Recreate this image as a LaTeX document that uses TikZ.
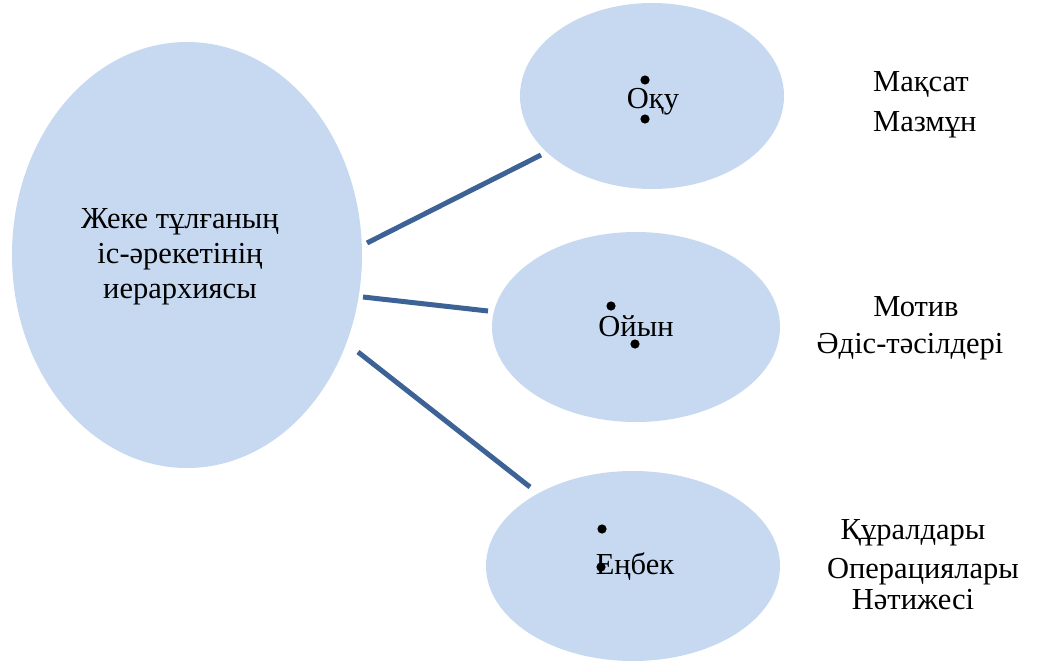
\documentclass[tikz,border=0pt]{standalone}
\usepackage{fontspec}
\setmainfont{Liberation Serif}
\usetikzlibrary{shapes.geometric}
\definecolor{ellfill}{RGB}{198,217,240}
\definecolor{linkcol}{RGB}{60,98,150}
\tikzset{
  bubble/.style={ellipse, fill=ellfill, draw=none, inner sep=0pt},
  txt/.style={font=\fontsize{30.5}{36}\selectfont, inner sep=0pt, anchor=base},
  link/.style={draw=linkcol, line width=5pt},
  dot/.style={fill=black}
}
\begin{document}
\begin{tikzpicture}[x=1pt,y=-1pt]
\useasboundingbox (0,0) rectangle (1039,661);
% ellipses
\node[bubble, minimum width=350pt, minimum height=426pt] (main) at (187,255) {};
\node[bubble, minimum width=264pt, minimum height=186pt] (oku) at (652,96) {};
\node[bubble, minimum width=288pt, minimum height=190pt] (oyin) at (636,327) {};
\node[bubble, minimum width=294pt, minimum height=190pt] (enbek) at (633,566) {};
% main text
\node[txt] (mt1) at (180,228) {Жеке тұлғаның};
\node[txt] (mt2) at (180,263) {іс-әрекетінің};
\node[txt] (mt3) at (180,298) {иерархиясы};
% ellipse labels
\node[txt] (okut) at (653,108) {Оқу};
\node[txt] (oyint) at (636,336) {Ойын};
\node[txt] (enbekt) at (635,574) {Еңбек};
% dots
\fill[dot] (645,80) circle (4.6pt);
\fill[dot] (645,119) circle (4.6pt);
\fill[dot] (611,306) circle (4.6pt);
\fill[dot] (635,344) circle (4.6pt);
\fill[dot] (602,529) circle (4.6pt);
\fill[dot] (601,567) circle (4.6pt);
% connectors
\coordinate (a1) at (367,243); \coordinate (b1) at (541,155);
\coordinate (a2) at (363,297); \coordinate (b2) at (488,311);
\coordinate (a3) at (358,352); \coordinate (b3) at (530,487);
\draw[link] (a1) -- (b1);
\draw[link] (a2) -- (b2);
\draw[link] (a3) -- (b3);
% right texts
\node[txt, anchor=base west] (r1) at (873,92) {Мақсат};
\node[txt, anchor=base west] (r2) at (873,131) {Мазмұн};
\node[txt] (r3) at (916,316) {Мотив};
\node[txt] (r4) at (910,353) {Әдіс-тәсілдері};
\node[txt] (r5) at (913,539) {Құралдары};
\node[txt] (r6) at (923,578) {Операциялары};
\node[txt] (r7) at (913,609) {Нәтижесі};
\end{tikzpicture}
\end{document}
